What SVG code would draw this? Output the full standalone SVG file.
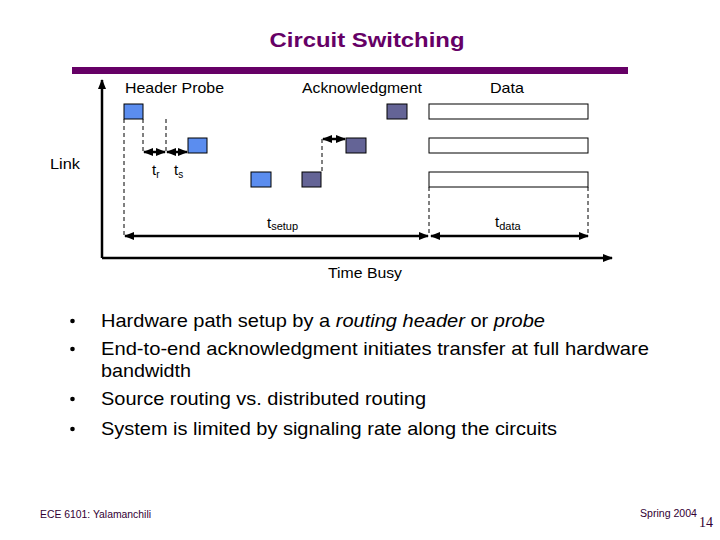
<svg xmlns="http://www.w3.org/2000/svg" width="720" height="540" viewBox="0 0 720 540">
<style>
.lbl{font-family:"Liberation Sans",Arial,sans-serif;font-size:15px;fill:#000}
.bul{font-family:"Liberation Sans",Arial,sans-serif;font-size:18.5px;fill:#000}
.foot{font-family:"Liberation Sans",Arial,sans-serif;font-size:10px;fill:#330033}
.probe{fill:#5b8def;stroke:#000;stroke-width:1}
.ack{fill:#646496;stroke:#000;stroke-width:1}
.data{fill:#fff;stroke:#000;stroke-width:1}
.dash{stroke:#000;stroke-width:1;stroke-dasharray:4,3;fill:none}
.arr{stroke:#000;stroke-width:2.5;fill:none}
</style>
<defs>
<marker id="ah" viewBox="0 0 10 10" refX="9" refY="5" markerWidth="4" markerHeight="4" orient="auto-start-reverse" markerUnits="strokeWidth">
<path d="M0,1 L10,5 L0,9 Z" fill="#000"/>
</marker>
</defs>
<rect width="720" height="540" fill="#fff"/>
<text x="367" y="47" text-anchor="middle" font-family="Liberation Sans,Arial,sans-serif" font-weight="bold" font-size="20" fill="#660066" textLength="195" lengthAdjust="spacingAndGlyphs">Circuit Switching</text>
<rect x="72" y="67" width="556" height="7" fill="#660066"/>

<g id="axes">
<line x1="102" y1="258" x2="102" y2="80" class="arr" marker-end="url(#ah)"/>
<line x1="102" y1="258" x2="612" y2="258" class="arr" marker-end="url(#ah)"/>
</g>

<g id="labels">
<text class="lbl" x="125" y="93" textLength="99" lengthAdjust="spacingAndGlyphs">Header Probe</text>
<text class="lbl" x="302" y="93" textLength="120" lengthAdjust="spacingAndGlyphs">Acknowledgment</text>
<text class="lbl" x="490" y="93" textLength="34" lengthAdjust="spacingAndGlyphs">Data</text>
<text class="lbl" x="50" y="169" textLength="30" lengthAdjust="spacingAndGlyphs">Link</text>
<text class="lbl" x="152" y="175" font-size="18">t<tspan font-size="10" dy="3">r</tspan></text>
<text class="lbl" x="174" y="175" font-size="18">t<tspan font-size="10" dy="3">s</tspan></text>
<text class="lbl" x="267" y="228" font-size="20">t<tspan font-size="11" dy="2">setup</tspan></text>
<text class="lbl" x="495" y="227" font-size="20">t<tspan font-size="11" dy="3">data</tspan></text>
<text class="lbl" x="328" y="278" textLength="74" lengthAdjust="spacingAndGlyphs">Time Busy</text>
</g>

<g id="probes">
<rect id="p1" class="probe" x="124" y="104" width="19" height="15"/>
<rect id="p2" class="probe" x="188" y="138" width="19" height="15"/>
<rect id="p3" class="probe" x="251" y="172" width="20" height="15"/>
</g>
<g id="acks">
<rect id="a1" class="ack" x="302" y="172" width="19" height="15"/>
<rect id="a2" class="ack" x="346" y="138" width="20" height="15"/>
<rect id="a3" class="ack" x="387" y="104" width="20" height="15"/>
</g>
<g id="datablocks">
<rect id="d1" class="data" x="429" y="104" width="159" height="15"/>
<rect id="d2" class="data" x="429" y="138" width="159" height="15"/>
<rect id="d3" class="data" x="429" y="172" width="159" height="15"/>
</g>

<g id="connectors">
<line class="dash" x1="124" y1="119" x2="124" y2="236"/>
<line class="dash" x1="143" y1="119" x2="143" y2="152"/>
<line class="dash" x1="166" y1="119" x2="166" y2="152"/>
<line class="dash" x1="322" y1="139" x2="322" y2="172"/>
<line class="dash" x1="429" y1="187" x2="429" y2="236"/>
<line class="dash" x1="588" y1="187" x2="588" y2="236"/>
<line class="arr" x1="144" y1="152" x2="165" y2="152" stroke-width="2" marker-start="url(#ah)" marker-end="url(#ah)"/>
<line class="arr" x1="167" y1="152" x2="187" y2="152" stroke-width="2" marker-start="url(#ah)" marker-end="url(#ah)"/>
<line class="arr" x1="323" y1="139" x2="345" y2="139" stroke-width="2" marker-start="url(#ah)" marker-end="url(#ah)"/>
<line class="arr" x1="125" y1="236" x2="428" y2="236" stroke-width="2" marker-start="url(#ah)" marker-end="url(#ah)"/>
<line class="arr" x1="431" y1="236" x2="588" y2="236" stroke-width="2" marker-start="url(#ah)" marker-end="url(#ah)"/>
</g>

<g id="bullets">
<circle cx="72.5" cy="321" r="2.3"/>
<circle cx="72.5" cy="349" r="2.3"/>
<circle cx="72.5" cy="399" r="2.3"/>
<circle cx="72.5" cy="429" r="2.3"/>
<text class="bul" x="101" y="327" textLength="444" lengthAdjust="spacingAndGlyphs">Hardware path setup by a <tspan font-style="italic">routing header</tspan> or <tspan font-style="italic">probe</tspan></text>
<text class="bul" x="101" y="355" textLength="548" lengthAdjust="spacingAndGlyphs">End-to-end acknowledgment initiates transfer at full hardware</text>
<text class="bul" x="101" y="377" textLength="90" lengthAdjust="spacingAndGlyphs">bandwidth</text>
<text class="bul" x="101" y="405" textLength="325" lengthAdjust="spacingAndGlyphs">Source routing vs. distributed routing</text>
<text class="bul" x="101" y="435" textLength="456" lengthAdjust="spacingAndGlyphs">System is limited by signaling rate along the circuits</text>
</g>

<g id="footer">
<text class="foot" x="40" y="518" textLength="111" lengthAdjust="spacingAndGlyphs">ECE 6101: Yalamanchili</text>
<text class="foot" x="640" y="517" textLength="57" lengthAdjust="spacingAndGlyphs">Spring 2004</text>
<text x="699" y="527" font-family="Liberation Serif,serif" font-size="14" fill="#330033">14</text>
</g>
</svg>
